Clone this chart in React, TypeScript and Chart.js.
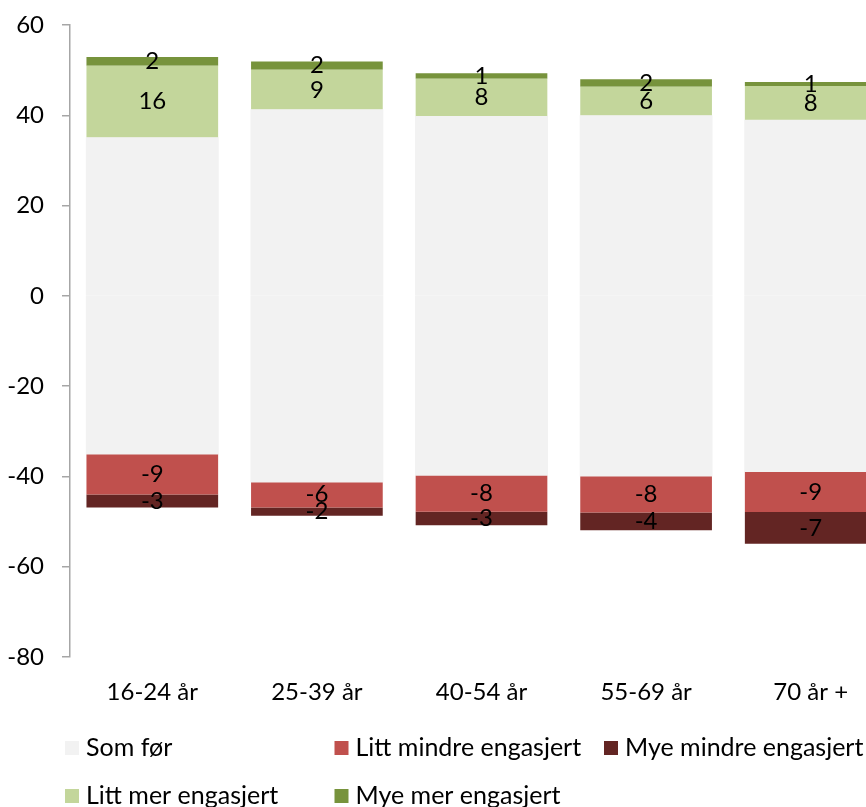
import React, { useEffect, useRef } from "react";
import { Chart, registerables } from "chart.js";

Chart.register(...registerables);

const categories = ["16-24 år", "25-39 år", "40-54 år", "55-69 år", "70 år +"];
const somFor = [70.0, 82.4, 79.4, 79.8, 77.8];
const littMindre = [-9.0, -5.7, -8.1, -8.1, -9.0];
const myeMindre = [-2.9, -1.8, -3.0, -3.9, -7.0];
const littMer = [16.0, 8.9, 8.4, 6.4, 7.6];
const myeMer = [1.9, 1.8, 1.2, 1.7, 0.9];
const yMin = -80;
const yMax = 60;
const yStep = 20;

const FONT = "Lato";

const valueLabels = {
  id: "valueLabels",
  afterDatasetsDraw(chart: any, _args: any, opts: any) {
    const ctx = chart.ctx;
    ctx.save();
    ctx.font = `${opts.size}px ${opts.family}`;
    ctx.fillStyle = opts.color;
    ctx.textAlign = "center";
    ctx.textBaseline = "middle";
    chart.data.datasets.forEach((ds: any, di: number) => {
      if (!ds.showValue) return;
      const meta = chart.getDatasetMeta(di);
      meta.data.forEach((el: any, i: number) => {
        const v = ds.data[i];
        const cy = (el.y + el.base) / 2;
        ctx.fillText(String(Math.round(v)), el.x, cy);
      });
    });
    ctx.restore();
  },
};

const gridLegend = {
  id: "gridLegend",
  afterDraw(chart: any, _args: any, opts: any) {
    const ctx = chart.ctx;
    const items = chart.data.datasets.filter((d: any) => !d.hideInLegend);
    ctx.save();
    ctx.font = `${opts.size}px ${opts.family}`;
    ctx.textBaseline = "middle";
    ctx.textAlign = "left";
    items.forEach((ds: any, i: number) => {
      const col = i % opts.columns;
      const row = Math.floor(i / opts.columns);
      const x = opts.left + col * opts.colWidth;
      const y = opts.top + row * opts.rowHeight;
      ctx.fillStyle = ds.backgroundColor;
      ctx.fillRect(x, y - opts.box / 2, opts.box, opts.box);
      ctx.fillStyle = "#000";
      ctx.fillText(ds.label, x + opts.box + opts.gap, y);
    });
    ctx.restore();
  },
};

export default function App() {
  const ref = useRef<HTMLCanvasElement | null>(null);

  useEffect(() => {
    if (!ref.current) return;
    const half = somFor.map((v) => v / 2);
    const chart = new Chart(ref.current, {
      type: "bar",
      data: {
        labels: categories,
        datasets: [
          { label: "Som før", data: half, backgroundColor: "#F2F2F2", inflateAmount: 0.6 },
          { label: "Som før", data: half.map((v) => -v), backgroundColor: "#F2F2F2", inflateAmount: 0.6, hideInLegend: true },
          { label: "Litt mindre engasjert", data: littMindre, backgroundColor: "#C0504D", showValue: true },
          { label: "Mye mindre engasjert", data: myeMindre, backgroundColor: "#632523", showValue: true },
          { label: "Litt mer engasjert", data: littMer, backgroundColor: "#C3D69B", showValue: true },
          { label: "Mye mer engasjert", data: myeMer, backgroundColor: "#77933C", showValue: true },
        ] as any,
      },
      options: {
        responsive: false,
        animation: false,
        layout: { padding: { top: 25, right: 7, bottom: 123, left: 0 } },
        datasets: { bar: { barPercentage: 0.8, categoryPercentage: 1.0, borderWidth: 0 } },
        scales: {
          x: {
            stacked: true,
            grid: { display: false, drawTicks: false },
            border: { display: false },
            ticks: { color: "#000", font: { family: FONT, size: 24 }, padding: 21, maxRotation: 0 },
            afterFit: (s: any) => { s.height = 50; },
          },
          y: {
            stacked: true,
            min: yMin,
            max: yMax,
            ticks: { stepSize: yStep, color: "#000", font: { family: FONT, size: 24 }, padding: 18 },
            grid: { drawOnChartArea: false, drawTicks: true, tickLength: 8, color: "#A6A6A6", lineWidth: 1.5 },
            border: { display: true, color: "#A6A6A6", width: 1.5 },
            afterFit: (s: any) => { s.width = 70; s.paddingTop = 0; s.paddingBottom = 0; },
          },
        },
        plugins: {
          legend: { display: false },
          tooltip: { enabled: false },
          valueLabels: { size: 24, family: FONT, color: "#000" },
          gridLegend: { size: 25, family: FONT, left: 65, top: 748, colWidth: 269.5, rowHeight: 48, columns: 3, box: 14, gap: 7 },
        } as any,
      },
      plugins: [valueLabels, gridLegend],
    });
    return () => chart.destroy();
  }, []);

  return (
    <div style={{ position: "fixed", left: 0, top: 0, width: 866, height: 807, overflow: "hidden", background: "#fff" }}>
      <canvas ref={ref} width={900} height={830} style={{ display: "block", width: 900, height: 830 }} />
    </div>
  );
}
